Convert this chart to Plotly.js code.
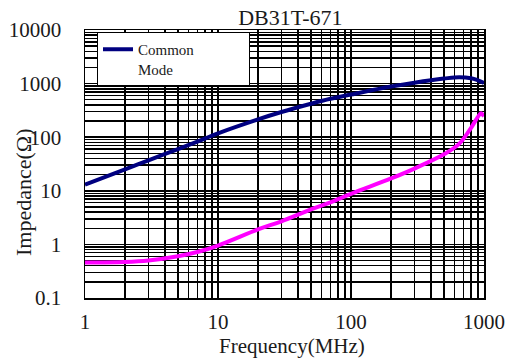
<!DOCTYPE html>
<html>
<head>
<meta charset="utf-8">
<script src="https://cdn.plot.ly/plotly-3.0.1.min.js"></script>
<style>html,body{margin:0;padding:0;background:#fff;}#chart{width:509px;height:358px;}</style>
</head>
<body>
<div id="chart"></div>
<script>
// Frequency (MHz)
const freq = [1, 2, 3, 5, 7, 10, 20, 30, 50, 70, 100, 200, 300, 500, 650, 800, 900, 950, 1000];
// Common mode impedance (Ohm)
const commonMode = [13, 25, 37, 60, 83, 118, 215, 295, 420, 520, 625, 880, 1040, 1240, 1320, 1260, 1150, 1090, 1030];
// Second (unlabelled) impedance curve (Ohm)
const otherCurve = [0.46, 0.47, 0.5, 0.6, 0.72, 0.95, 1.9, 2.7, 4.5, 6.1, 8.8, 17, 26, 48, 75, 150, 240, 280, 245];

const xTickVals = [];
const xTickText = [];
[1, 10, 100].forEach(d => { for (let k = 1; k <= 9; k++) { xTickVals.push(d * k); xTickText.push(k === 1 ? String(d * k) : ''); } });
xTickVals.push(1000); xTickText.push('1000');

const yTickVals = [];
const yTickText = [];
[0.1, 1, 10, 100, 1000].forEach(d => { for (let k = 1; k <= 9; k++) { const v = +(d * k).toPrecision(3); yTickVals.push(v); yTickText.push(k === 1 ? String(v) : ''); } });
yTickVals.push(10000); yTickText.push('10000');

const serif = 'Liberation Serif';
const txt = '#1a1a1a';

const traces = [
  {x: freq, y: commonMode, type: 'scatter', mode: 'lines', name: 'Common<br>Mode',
   line: {color: '#000080', width: 4, shape: 'spline'}},
  {x: freq, y: otherCurve, type: 'scatter', mode: 'lines', name: 'Differential',
   line: {color: '#ff00ff', width: 4, shape: 'spline'}, showlegend: false}
];

const layout = {
  width: 509, height: 358,
  margin: {l: 85, r: 25, t: 30, b: 60},
  paper_bgcolor: '#fff', plot_bgcolor: '#fff',
  font: {family: serif, color: txt, size: 21},
  title: {text: 'DB31T-671', font: {family: serif, size: 22, color: txt},
          x: 262 / 509, xanchor: 'center', y: 1 - 17 / 358, yanchor: 'middle', xref: 'paper', yref: 'container'},
  xaxis: {type: 'log', range: [0, 3], tickmode: 'array', tickvals: xTickVals, ticktext: xTickText,
          showgrid: true, gridcolor: '#000', gridwidth: 1.5, zeroline: false,
          showline: true, mirror: true, linecolor: '#000', linewidth: 1.5,
          ticks: '', ticklabelstandoff: 4, tickfont: {family: serif, size: 21, color: txt}},
  yaxis: {type: 'log', range: [-1, 4], tickmode: 'array', tickvals: yTickVals, ticktext: yTickText,
          showgrid: true, gridcolor: '#000', gridwidth: 1.5, zeroline: false,
          showline: true, mirror: true, linecolor: '#000', linewidth: 1.5,
          ticks: '', ticklabelstandoff: 18, tickfont: {family: serif, size: 21, color: txt}},
  showlegend: true,
  legend: {x: 12 / 399, y: 1 - 2 / 268, xanchor: 'left', yanchor: 'top', bgcolor: '#fff',
           bordercolor: '#000', borderwidth: 1, font: {family: serif, size: 15, color: txt},
           orientation: 'h', entrywidth: 106, entrywidthmode: 'pixels', valign: 'top', tracegroupgap: 0},
  annotations: [
    {text: 'Frequency(MHz)', xref: 'paper', yref: 'paper', x: (292 - 85) / 399, y: (298 - 346) / 268,
     xanchor: 'center', yanchor: 'middle', showarrow: false, font: {family: serif, size: 21, color: txt}},
    {text: 'Impedance(Ω)', xref: 'paper', yref: 'paper', x: (23 - 85) / 399, y: (298 - 192) / 268,
     xanchor: 'center', yanchor: 'middle', textangle: -90, showarrow: false, font: {family: serif, size: 22, color: txt}}
  ]
};

Plotly.newPlot('chart', traces, layout, {displayModeBar: false, staticPlot: true});
</script>
</body>
</html>
